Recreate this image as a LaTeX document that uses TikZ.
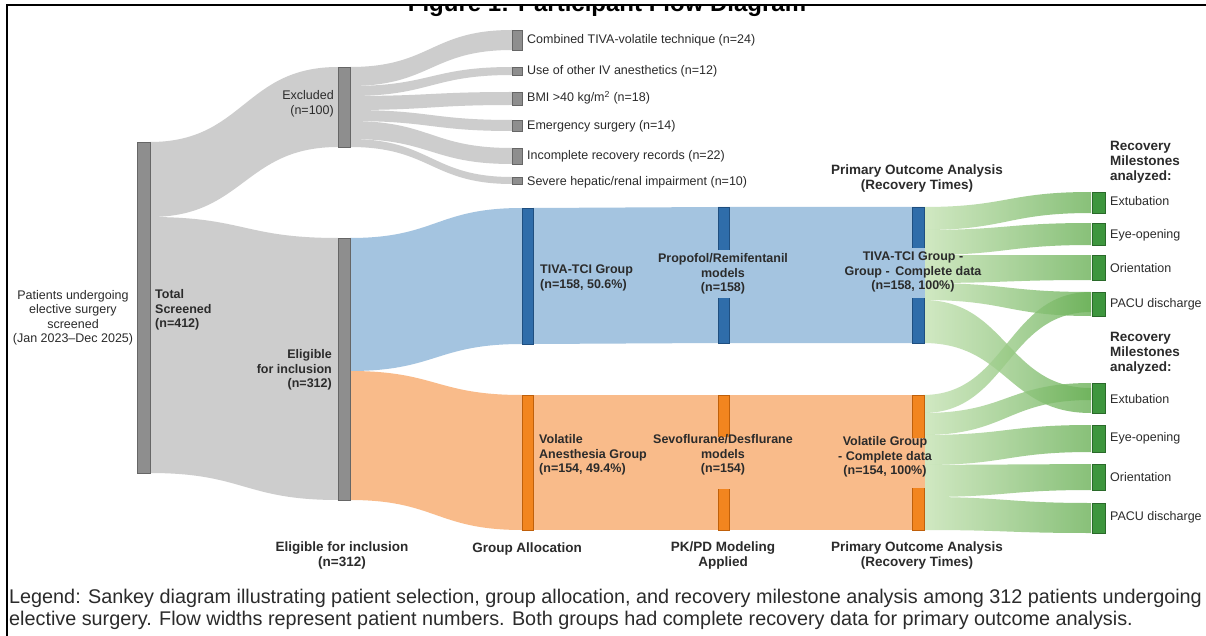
\documentclass[tikz,border=0pt]{standalone}
\usepackage{fontspec}
\setmainfont{Liberation Sans}
\definecolor{flowgray}{HTML}{CDCDCD}
\definecolor{bargray}{HTML}{8E8E8E}
\definecolor{bargrayd}{HTML}{666666}
\definecolor{flowblue}{HTML}{A4C4E0}
\definecolor{barblue}{HTML}{2F6DAA}
\definecolor{barblued}{HTML}{1F4F80}
\definecolor{floworange}{HTML}{F9BB8A}
\definecolor{barorange}{HTML}{F2851F}
\definecolor{barorangeD}{HTML}{C0600A}
\definecolor{greenL}{HTML}{C6E3B4}
\definecolor{greenR}{HTML}{6BB158}
\definecolor{bargreen}{HTML}{3E963E}
\definecolor{bargreend}{HTML}{2A6A2A}
\definecolor{txt}{HTML}{2B2B2B}
\newcommand{\band}[7]{%
  \pgfmathsetmacro\xmid{(#1+#4)/2}%
  \path[#7] (#1,#2) .. controls (\xmid,#2) and (\xmid,#5) .. (#4,#5) -- (#4,#6) .. controls (\xmid,#6) and (\xmid,#3) .. (#1,#3) -- cycle;}
\newcommand{\sbar}[6]{%
  \node[#6, minimum width={#4-#2}, minimum height={#5-#3}, anchor=north west] (#1) at (#2,#3) {};}
\tikzset{
  barbase/.style={draw, line width=0.6pt, inner sep=0pt, outer sep=0pt, rectangle},
  gbar/.style={barbase, fill=bargray, draw=bargrayd},
  bbar/.style={barbase, fill=barblue, draw=barblued},
  obar/.style={barbase, fill=barorange, draw=barorangeD},
  grbar/.style={barbase, fill=bargreen, draw=bargreend},
  gflow/.style={fill=flowgray},
  bflow/.style={fill=flowblue},
  oflow/.style={fill=floworange},
  grflow/.style={left color=greenL, right color=greenR, fill opacity=0.8},
  lab/.style={text=txt, font=\fontsize{12.5}{14.5}\selectfont, inner sep=0pt, align=left},
  blab/.style={text=txt, font=\fontsize{12.5}{14.5}\selectfont\bfseries, inner sep=0pt},
  head/.style={text=txt, font=\fontsize{13.5}{15}\selectfont\bfseries, inner sep=0pt, align=center},
}
\begin{document}
\begin{tikzpicture}[x=1pt,y=-1pt]
\useasboundingbox (0,0) rectangle (1206,636);
\fill[white] (0,0) rectangle (1206,636);
% title (clipped by top edge)
\begin{scope}
\clip (0,5) rectangle (1206,30);
\node[font=\fontsize{24}{28}\selectfont\bfseries, text=black, anchor=base, inner sep=0pt] (title) at (607,12) {Figure 1: Participant Flow Diagram};
\end{scope}
\draw[line width=2.2pt] (7,636) -- (7,5) -- (1206,5);

% ---- gray flows
\band{150}{142}{217}{338}{67}{147}{gflow}
\band{150}{217}{473}{338}{238}{500}{gflow}
\band{350}{67}{86}{512}{30}{50}{gflow}
\band{350}{86}{96}{512}{67}{75}{gflow}
\band{350}{96}{110}{512}{92}{105}{gflow}
\band{350}{110}{121}{512}{120}{131}{gflow}
\band{350}{121}{139}{512}{148}{164}{gflow}
\band{350}{139}{147}{512}{177}{184}{gflow}
% ---- blue / orange flows
\band{350}{238}{371}{522}{208}{344}{bflow}
\band{350}{371}{500}{522}{395}{530}{oflow}
\fill[flowblue] (533,208) -- (718,207) -- (923,207) -- (923,343) -- (718,343) -- (533,344) -- cycle;
\fill[floworange] (533,395) rectangle (923,530);
% ---- green flows
\band{923}{207}{230}{1091}{192}{213}{grflow}
\band{923}{230}{255}{1091}{223}{245}{grflow}
\band{923}{255}{283}{1091}{255}{280}{grflow}
\band{923}{283}{300}{1091}{292}{316}{grflow}
\band{923}{300}{343}{1091}{388}{413}{grflow}
\band{923}{395}{413}{1091}{292}{312}{grflow}
\band{923}{413}{435}{1091}{383}{400}{grflow}
\band{923}{435}{465}{1091}{425}{452}{grflow}
\band{923}{465}{497}{1091}{464}{490}{grflow}
\band{923}{497}{530}{1091}{503}{533}{grflow}

% ---- bars
\sbar{total}{137}{142}{150}{473}{gbar}
\sbar{excl}{338}{67}{350}{147}{gbar}
\sbar{elig}{338}{238}{350}{500}{gbar}
\sbar{r1}{512}{30}{522}{50}{gbar}
\sbar{r2}{512}{67}{522}{75}{gbar}
\sbar{r3}{512}{92}{522}{105}{gbar}
\sbar{r4}{512}{120}{522}{131}{gbar}
\sbar{r5}{512}{148}{522}{164}{gbar}
\sbar{r6}{512}{177}{522}{184}{gbar}
\sbar{tiva}{522}{208}{533}{344}{bbar}
\sbar{prop}{718}{207}{729}{343}{bbar}
\sbar{tivac}{912}{207}{924}{343}{bbar}
\sbar{vol}{522}{395}{533}{530}{obar}
\sbar{sevo}{718}{395}{729}{530}{obar}
\sbar{volc}{912}{395}{924}{530}{obar}
\sbar{g1}{1092}{192}{1105}{213}{grbar}
\sbar{g2}{1092}{223}{1105}{245}{grbar}
\sbar{g3}{1092}{255}{1105}{280}{grbar}
\sbar{g4}{1092}{292}{1105}{316}{grbar}
\sbar{g5}{1092}{383}{1105}{413}{grbar}
\sbar{g6}{1092}{425}{1105}{452}{grbar}
\sbar{g7}{1092}{464}{1105}{490}{grbar}
\sbar{g8}{1092}{503}{1105}{533}{grbar}

% gaps in the bars behind the labels
\fill[flowblue] ([xshift=-1pt]prop.west |- 0,250) rectangle ([xshift=1pt]prop.east |- 0,298);
\fill[flowblue] ([xshift=-1pt]tivac.west |- 0,248) rectangle ([xshift=1pt]tivac.east |- 0,298);
\fill[floworange] ([xshift=-1pt]sevo.west |- 0,437) rectangle ([xshift=1pt]sevo.east |- 0,489);
\fill[floworange] ([xshift=-1pt]volc.west |- 0,438) rectangle ([xshift=1pt]volc.east |- 0,488);

% ---- labels
\node[lab, align=center] (lpat) at (73,318) {Patients undergoing\\elective surgery\\screened\\(Jan 2023--Dec 2025)};
\node[blab, align=left, anchor=west] (ltot) at (155,310) {Total\\Screened\\(n=412)};
\node[lab, align=right, anchor=east] (lexc) at (334,104) {Excluded\\(n=100)};
\node[blab, align=right, anchor=east] (lelig) at (332,370) {Eligible\\for inclusion\\(n=312)};
\node[lab, anchor=west] (lr1) at (527,40) {Combined TIVA-volatile technique (n=24)};
\node[lab, anchor=west] (lr2) at (527,71) {Use of other IV anesthetics (n=12)};
\node[lab, anchor=west] (lr3) at (527,98) {BMI >40 kg/m\textsuperscript{2} (n=18)};
\node[lab, anchor=west] (lr4) at (527,126) {Emergency surgery (n=14)};
\node[lab, anchor=west] (lr5) at (527,156) {Incomplete recovery records (n=22)};
\node[lab, anchor=west] (lr6) at (527,182) {Severe hepatic/renal impairment (n=10)};
\node[blab, align=left, anchor=west] (ltiva) at (540,278) {TIVA-TCI Group\\(n=158, 50.6\%)};
\node[blab, align=center] (lprop) at (723,274) {Propofol/Remifentanil\\models\\(n=158)};
\node[blab, align=center] (ltivac) at (913,272) {TIVA-TCI Group -\\Group -\, Complete data\\(n=158, 100\%)};
\node[blab, align=left, anchor=west] (lvol) at (539,455) {Volatile\\Anesthesia Group\\(n=154, 49.4\%)};
\node[blab, align=center] (lsevo) at (723,455) {Sevoflurane/Desflurane\\models\\(n=154)};
\node[blab, align=center] (lvolc) at (885,457) {Volatile Group\\- Complete data\\(n=154, 100\%)};

\node[head] (hpoa) at (917,179) {Primary Outcome Analysis\\(Recovery Times)};
\node[head, align=left, anchor=west] (hrm1) at (1110,162) {Recovery\\Milestones\\analyzed:};
\node[head, align=left, anchor=west] (hrm2) at (1110,353) {Recovery\\Milestones\\analyzed:};
\node[lab, anchor=west] (m1) at (1110,201) {Extubation};
\node[lab, anchor=west] (m2) at (1110,235) {Eye-opening};
\node[lab, anchor=west] (m3) at (1110,268) {Orientation};
\node[lab, anchor=west] (m4) at (1110,304) {PACU discharge};
\node[lab, anchor=west] (m5) at (1110,399) {Extubation};
\node[lab, anchor=west] (m6) at (1110,438) {Eye-opening};
\node[lab, anchor=west] (m7) at (1110,477) {Orientation};
\node[lab, anchor=west] (m8) at (1110,517) {PACU discharge};
\node[head] (b1) at (342,556) {Eligible for inclusion\\(n=312)};
\node[head] (b2) at (527,549) {Group Allocation};
\node[head] (b3) at (723,556) {PK/PD Modeling\\Applied};
\node[head] (b4) at (917,556) {Primary Outcome Analysis\\(Recovery Times)};
\node[text=txt, font=\fontsize{19.8}{22}\selectfont, align=left, anchor=north west, inner sep=0pt] (legend) at (9,589) {Legend: Sankey diagram illustrating patient selection, group allocation, and recovery milestone analysis among 312 patients undergoing\\elective surgery. Flow widths represent patient numbers. Both groups had complete recovery data for primary outcome analysis.};
\end{tikzpicture}
\end{document}
